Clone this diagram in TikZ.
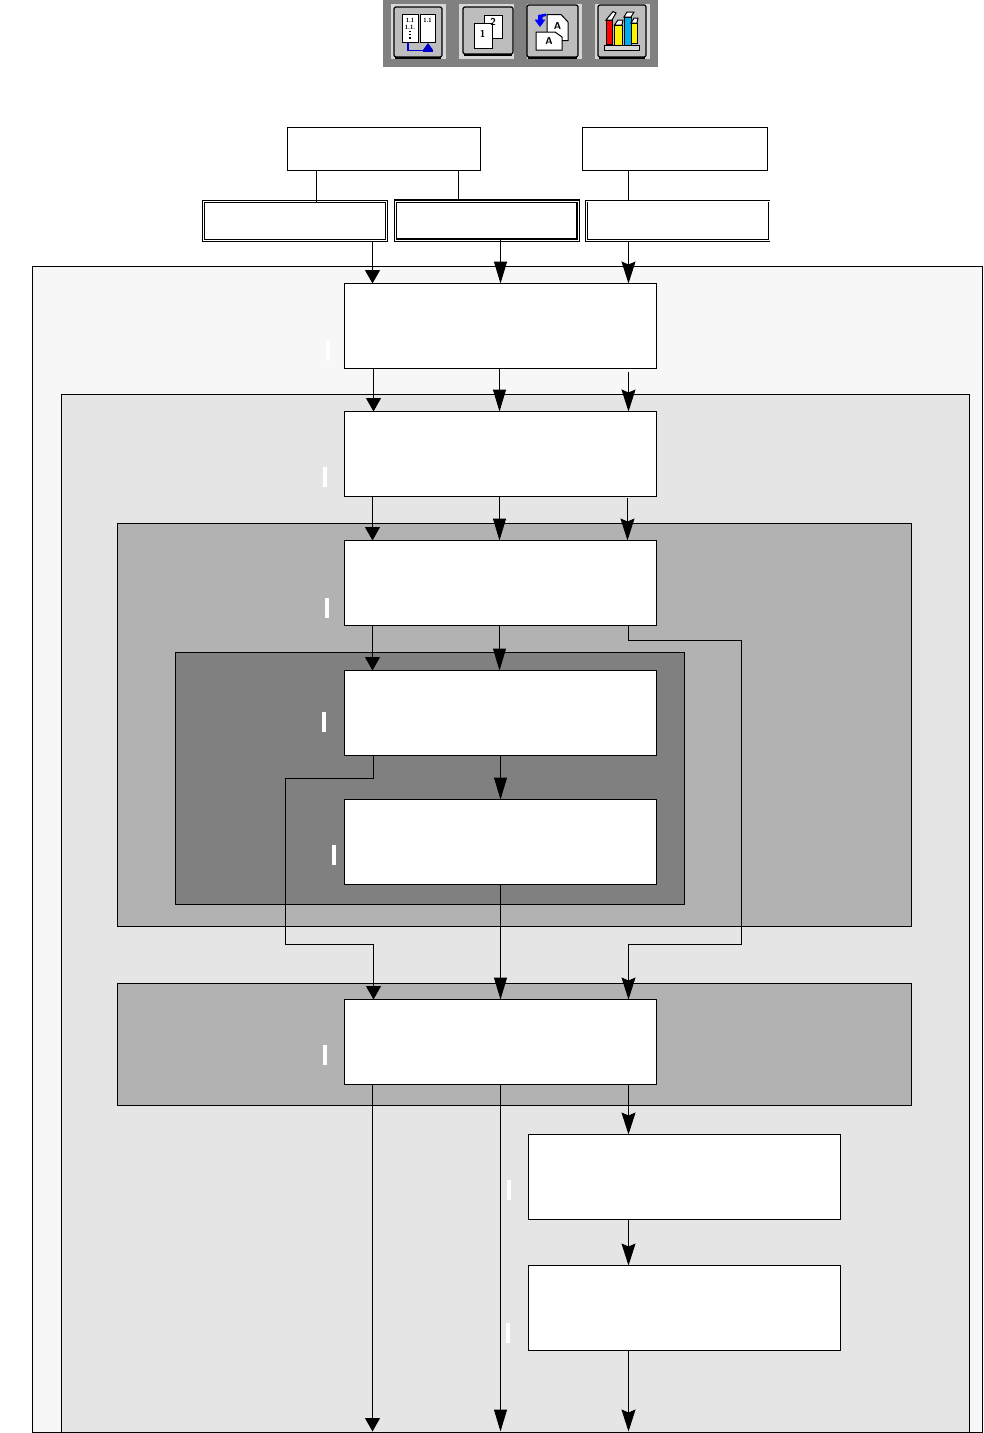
\documentclass[tikz,border=0pt]{standalone}
\usepackage{tikz}
\usetikzlibrary{arrows.meta}

\definecolor{zoneA}{HTML}{F7F7F7}
\definecolor{zoneB}{HTML}{E5E5E5}
\definecolor{zoneC}{HTML}{B2B2B2}
\definecolor{zoneD}{HTML}{808080}
\definecolor{toolface}{HTML}{BDBDBD}
\definecolor{toolhalo}{HTML}{D6D6D6}

\tikzset{
  zone/.style={draw, line width=1pt},
  stage/.style={draw, fill=white, line width=1pt, anchor=north west, outer sep=0pt, minimum width=312pt, minimum height=85pt, inner sep=0pt},
  head/.style={draw, fill=white, line width=1pt, anchor=north west, outer sep=0pt, minimum height=43pt, inner sep=0pt},
  input/.style={draw, double, double distance=1pt, fill=white, line width=1pt, anchor=north west, outer sep=0pt, inner sep=0pt},
  tick/.style={fill=white, anchor=north west, minimum width=4pt, minimum height=20pt, inner sep=0pt},
  flowS/.style={line width=1pt, -{Triangle[length=13.5pt, width=15pt]}},
  flowM/.style={line width=1pt, -{Triangle[length=22pt, width=13pt]}},
  flowN/.style={line width=1pt, -{Stealth[length=22pt, width=14pt, inset=3pt]}},
  link/.style={line width=1pt},
  icon/.style={draw, line width=1pt},
  glyph/.style={inner sep=0pt, font=\sffamily\bfseries\fontsize{10}{10}\selectfont},
  small glyph/.style={inner sep=0pt, font=\sffamily\bfseries\fontsize{6}{6}\selectfont},
}

\begin{document}
\begin{tikzpicture}[x=1pt, y=-1pt]
  \useasboundingbox (0,0) rectangle (984,1433);

  % shaded regions
  \draw[zone, fill=zoneA] (32.5,266.5) rectangle (982.5,1432.5);
  \draw[zone, fill=zoneB] (61.5,394.5) rectangle (969.5,1432.5);
  \draw[zone, fill=zoneC] (117.5,523.5) rectangle (911.5,926.5);
  \draw[zone, fill=zoneD] (175.5,652.5) rectangle (684.5,904.5);
  \draw[zone, fill=zoneC] (117.5,983.5) rectangle (911.5,1105.5);

  % toolbar
  \fill[zoneD] (383,0) rectangle (658,67);
  \foreach \hx/\bx/\bxx/\by/\byy in {391/394/442/7/57, 459/463/513/7/54, 527/527/578/5/57, 595/598/646/5/57} {
    \fill[toolhalo] (\hx,4) rectangle ++(55,55);
    \draw[fill=toolface, line width=1.2pt, rounded corners=2pt] (\bx,\by) rectangle (\bxx,\byy);
    \draw[line width=2.4pt] (\bx+1,\byy+1) -- (\bxx-1,\byy+1);
  }

  % first button
  \draw[icon, fill=white] (402,14.5) rectangle (418,42.5);
  \draw[icon, fill=white] (420.5,14.5) rectangle (435,42.5);
  \node (markA) [small glyph] at (410,20) {1.1};
  \node (markB) [small glyph] at (410,27) {1.1.};
  \node (markC) [small glyph] at (427.5,20) {1.1};
  \draw[line width=1.2pt, dotted] (410,31) -- (410,40);
  \draw[blue!80!black, line width=1.5pt] (408,43) -- (408,50.5) -- (428,50.5);
  \fill[blue!80!black] (423,50) rectangle (433,52);
  \fill[blue!80!black] (423,50) -- (433,50) -- (428,43) -- cycle;

  % second button
  \draw[icon, fill=white] (484,15) rectangle (502,38);
  \draw[icon, fill=white] (474.5,23.5) rectangle (492,48);
  \node (markD) [glyph] at (493,22) {2};
  \node (markE) [glyph] at (482.5,34) {1};

  % third button
  \draw[icon, fill=white] (547,14.5) -- (561,14.5) -- (568,22) -- (568,40.5) -- (547,40.5) -- cycle;
  \draw[icon, fill=white] (536,32) -- (555,32) -- (562,37) -- (562,50) -- (536,50) -- cycle;
  \node (markF) [glyph] at (557.5,26) {A};
  \node (markG) [glyph] at (549,41) {A};
  \fill[blue] (538,20) -- (538,15) -- (546,13.5) -- (546,16) -- (542.5,17) -- (542.5,20) -- cycle;
  \fill[blue] (534.5,19.5) -- (545.5,19.5) -- (540,27) -- cycle;

  % fourth button
  \draw[icon, fill=white] (606,20) -- (613,11.5) -- (616,13) -- (612,20) -- cycle;
  \draw[icon, fill=red] (606,20) rectangle (612.5,44.5);
  \draw[icon, fill=white] (614.5,25) -- (618,20) -- (623,20) -- (622,25) -- cycle;
  \draw[icon, fill=yellow] (614.5,25) rectangle (622.5,45);
  \draw[icon, fill=white] (624,17) -- (627,12) -- (634,12) -- (631,17) -- cycle;
  \draw[icon, fill=cyan] (624,17) rectangle (631,45);
  \draw[icon, fill=white] (631,23) -- (634,18) -- (638,18) -- (637,23) -- cycle;
  \draw[icon, fill=yellow] (631,23) rectangle (637,43);
  \draw[line width=0.8pt, fill=toolhalo] (604.5,45.5) rectangle (639.5,50.5);

  % boxes
  \node (srcA) [head, minimum width=193pt] at (287.5,127.5) {};
  \node (srcB) [head, minimum width=185pt] at (582.5,127.5) {};
  \node (inA) [input, minimum width=183pt, minimum height=39pt] at (203.5,201.5) {};
  \node (inB) [input, line width=1.4pt, double distance=0.4pt, minimum width=182.5pt, minimum height=39pt] at (395.5,201) {};
  \node (inC) [input, double distance=0.6pt, minimum width=182.5pt, minimum height=39.5pt] at (586.5,201) {};
  \node (stA) [stage] at (344.5,283.5) {};
  \node (stB) [stage] at (344.5,411.5) {};
  \node (stC) [stage] at (344.5,540.5) {};
  \node (stD) [stage] at (344.5,670.5) {};
  \node (stE) [stage] at (344.5,799.5) {};
  \node (stF) [stage] at (344.5,999.5) {};
  \node (stG) [stage] at (528.5,1134.5) {};
  \node (stH) [stage] at (528.5,1265.5) {};

  % white marks
  \node (tickA) [tick] at (326,341) {};
  \node (tickB) [tick] at (323,467) {};
  \node (tickC) [tick] at (325,598) {};
  \node (tickD) [tick] at (322,712) {};
  \node (tickE) [tick] at (332,845) {};
  \node (tickF) [tick] at (323,1045) {};
  \node (tickG) [tick] at (507,1180) {};
  \node (tickH) [tick] at (506,1323) {};

  % columns and free ends
  \coordinate (colL) at (372.5,0);
  \coordinate (colM) at (500.5,0);
  \coordinate (colR) at (628.5,0);
  \coordinate (outL) at (372.5,1431.5);
  \coordinate (outM) at (500.5,1431.5);
  \coordinate (outR) at (628.5,1431.5);

  % connectors
  \draw[link] ([xshift=29pt]srcA.south west) -- ([xshift=113pt]inA.north west);
  \draw[link] ([xshift=171pt]srcA.south west) -- ([xshift=63pt]inB.north west);
  \draw[link] ([xshift=46pt]srcB.south west) -- ([xshift=42pt]inC.north west);

  \foreach \u/\v/\s in {inA/stA/0, stA/stB/1, stB/stC/0, stC/stD/0} {
    \draw[flowS, transform canvas={xshift=\s pt}] (colL |- \u.south) -- (colL |- \v.north);
  }
  \foreach \u/\v/\s in {inB/stA/0, stA/stB/-1, stB/stC/-1, stC/stD/-1, stD/stE/0, stE/stF/0} {
    \draw[flowM, transform canvas={xshift=\s pt}] (colM |- \u.south) -- (colM |- \v.north);
  }
  \foreach \u/\v in {inC/stA, stF/stG, stG/stH} {
    \draw[flowN] (colR |- \u.south) -- (colR |- \v.north);
  }
  \draw[flowN] ([yshift=-3pt]colR |- stA.south) -- (colR |- stB.north);
  \draw[flowN, transform canvas={xshift=-1pt}] ([yshift=-1.5pt]colR |- stB.south) -- (colR |- stC.north);

  \draw[flowN] (colR |- stC.south) -- (628.5,640.5) -- (741.5,640.5) -- (741.5,944.5) -- (628.5,944.5) -- (colR |- stF.north);
  \draw[flowS] (373.5,755.5 |- stD.south) -- (373.5,778.5) -- (285.5,778.5) -- (285.5,944.5) -- (373.5,944.5) -- (373.5,999.5 |- stF.north);

  \draw[flowS] (colL |- stF.south) -- (outL);
  \draw[flowM] (colM |- stF.south) -- (outM);
  \draw[flowN] (colR |- stH.south) -- (outR);
\end{tikzpicture}
\end{document}
